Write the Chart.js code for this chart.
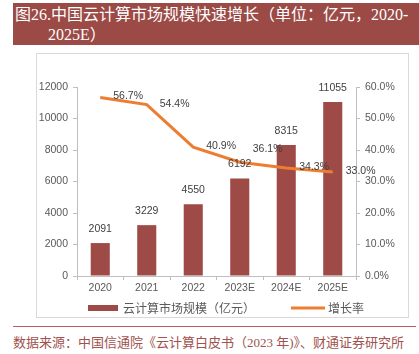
<!DOCTYPE html>
<html><head><meta charset="utf-8">
<script src="https://cdn.jsdelivr.net/npm/chart.js@4"></script>
<style>
html,body{margin:0;padding:0;background:#fff;width:419px;height:354px;overflow:hidden;position:relative;}
#banner{position:absolute;left:13px;top:3px;width:406px;height:42px;background:#9B4A46;color:#fff;
 font-family:"Liberation Serif","Noto Sans CJK SC",serif;font-size:16px;line-height:20px;overflow:hidden;}
#banner .l1{position:absolute;left:2px;top:2px;white-space:nowrap;}
#banner .l2{position:absolute;left:35px;top:22px;white-space:nowrap;}
#frame{position:absolute;left:36px;top:53px;width:371px;height:263px;border:1px solid #d9d9d9;box-sizing:content-box;}
#wrap{position:absolute;left:37px;top:54px;width:370px;height:263px;}
#rule{position:absolute;left:13px;top:326px;width:403px;height:1px;background:#B5605B;}
#src{position:absolute;left:13px;top:334px;white-space:nowrap;font-family:"Liberation Serif","Noto Sans CJK SC",serif;font-size:13px;line-height:17px;color:#A0524E;}
</style></head>
<body>
<div id="banner"><div class="l1">图26.中国云计算市场规模快速增长（单位：亿元，2020-</div><div class="l2">2025E）</div></div>
<div id="frame"></div>
<div id="wrap"><canvas id="c" width="370" height="263"></canvas></div>
<div id="rule"></div>
<div id="src">数据来源：中国信通院《云计算白皮书（2023 年)》、财通证券研究所</div>
<script>
const categories = ["2020","2021","2022","2023E","2024E","2025E"];
const marketSize = [2091,3229,4550,6192,8315,11055];
const growthRate = [56.7,54.4,40.9,36.1,34.3,33.0];
const barLabel = "云计算市场规模（亿元）";
const lineLabel = "增长率";

const tickColor = "#595959";
const axisColor = "#bfbfbf";
const numFont = {family:"'Liberation Sans', Arial, sans-serif", size:10.5};

const labelPlugin = {
  id:"valueLabels",
  afterDatasetsDraw(chart){
    const ctx = chart.ctx;
    ctx.save();
    ctx.font = "10.5px 'Liberation Sans', Arial, sans-serif";
    ctx.fillStyle = "#404040";
    const barMeta = chart.getDatasetMeta(0);
    barMeta.data.forEach((el,i)=>{
      ctx.textAlign = "center"; ctx.textBaseline = "middle";
      ctx.fillText(String(marketSize[i]), el.x, el.y - 14);
    });
    const lineMeta = chart.getDatasetMeta(1);
    lineMeta.data.forEach((el,i)=>{
      ctx.textAlign = "left"; ctx.textBaseline = "middle";
      const dy = (i===3) ? -13 : -1;
      ctx.fillText(growthRate[i].toFixed(1)+"%", el.x + 13, el.y + dy);
    });
    ctx.restore();
  }
};

const legendPlugin = {
  id:"customLegend",
  afterDraw(chart){
    const ctx = chart.ctx;
    const ds = chart.data.datasets;
    ctx.save();
    ctx.font = "12px 'Noto Sans CJK SC', sans-serif";
    const w0 = ctx.measureText(ds[0].label).width;
    const w1 = ctx.measureText(ds[1].label).width;
    const total = 30 + 5 + w0 + 36 + 34 + 3 + w1;
    let x = 189 - total/2;
    const y = 254;
    ctx.fillStyle = ds[0].backgroundColor;
    ctx.fillRect(x, y-3, 30, 6);
    x += 35;
    ctx.fillStyle = tickColor; ctx.textAlign="left"; ctx.textBaseline="middle";
    ctx.fillText(ds[0].label, x, y);
    x += w0 + 36;
    ctx.strokeStyle = ds[1].borderColor; ctx.lineWidth = 3;
    ctx.beginPath(); ctx.moveTo(x, y); ctx.lineTo(x+34, y); ctx.stroke();
    x += 37;
    ctx.fillText(ds[1].label, x, y);
    ctx.restore();
  }
};

new Chart(document.getElementById("c"), {
  data:{
    labels:categories,
    datasets:[
      {type:"bar", label:barLabel, data:marketSize, backgroundColor:"#9E4A47", yAxisID:"y",
       barPercentage:0.41, categoryPercentage:1.0, order:2},
      {type:"line", label:lineLabel, data:growthRate, borderColor:"#ED7D31", backgroundColor:"#ED7D31",
       borderWidth:3, pointRadius:0, tension:0, yAxisID:"y1", order:1}
    ]
  },
  options:{
    responsive:false, animation:false, devicePixelRatio:1,
    layout:{padding:{left:0,right:0,top:33,bottom:19}},
    plugins:{legend:{display:false}, tooltip:{enabled:false}},
    scales:{
      x:{grid:{drawOnChartArea:false, drawTicks:true, tickLength:4, color:axisColor}, border:{color:axisColor},
         ticks:{color:tickColor, font:numFont, padding:2},
         afterFit(s){ s.height = 22; }},
      y:{position:"left", min:0, max:12000, ticks:{stepSize:2000, color:tickColor, font:numFont, padding:5,
         callback:v=>String(v)},
         grid:{drawOnChartArea:false, drawTicks:true, tickLength:4, color:axisColor}, border:{color:axisColor},
         afterFit(s){ s.width = 40; }},
      y1:{position:"right", min:0, max:60, ticks:{stepSize:10, color:tickColor, font:numFont, padding:5,
         callback:v=>v.toFixed(1)+"%"},
         grid:{drawOnChartArea:false, drawTicks:true, tickLength:4, color:axisColor}, border:{color:axisColor},
         afterFit(s){ s.width = 51; }}
    }
  },
  plugins:[labelPlugin, legendPlugin]
});
</script>
</body></html>
